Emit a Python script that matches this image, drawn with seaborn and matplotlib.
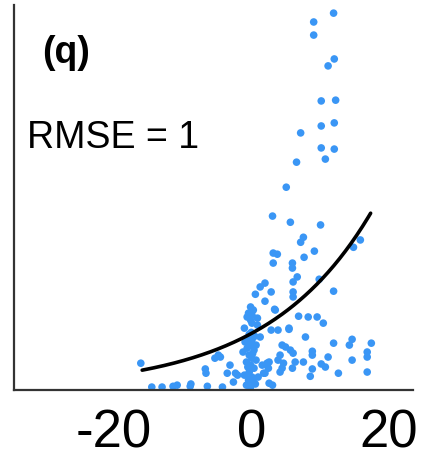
import numpy as np
import pandas as pd
import matplotlib
matplotlib.use("Agg")
import matplotlib.pyplot as plt
import seaborn as sns

x_vals = [
    12.0, 9.1, 9.1, 12.1, 11.2, 10.2, 12.3, 10.2, 12.1, 7.2, 10.2, 12.1, 10.8, 6.6, 5.1,
    3.1, 5.7, 10.1, 7.6, 7.2, 15.9, 14.9, 9.2, 7.7, 3.2, 3.8, 3.2, 6.0, 6.0, 6.7, 6.1, 9.9,
    2.0, 1.3, 2.9, 6.1, 6.1, 12.0, 0.6, 2.0, 3.4, 3.5,
    -0.1, 0.3, -0.4, 0.1, -0.6, 0.9, -0.1, 0.1, -1.0, 0.9,
    6.9, 8.3, 9.6, 10.5, 5.5, 3.9, 2.9, 1.3, 7.9, 12.0, 14.7, 14.3, 17.5,
    4.5, 5.0, 5.7, 6.1, 8.9, 8.9, 16.9, 16.9,
    -4.8, -5.3, 4.2, 3.9, 11.2, 14.7, 2.6, 2.3, 7.6, 10.2, 10.8, -3.1, -3.5, -6.7, -6.6,
    4.5, 6.0, 8.9, 12.7, 16.9, -16.1, -2.3, 1.8, 2.6, 8.6,
    -14.5, -13.0, -11.4, -10.8, -8.9, -8.8, -6.4, -4.2, -2.6,
    -0.4, 0.1, -0.1, -0.6, 0.4, -0.3, 0.1, -0.7, -0.1, 0.4, -0.3, -1.0, 0.1, -0.4, -0.7,
    -0.1, 0.6, 1.0, -0.9, 0.7, -1.2, 0.7, 1.6, 2.3, 2.5, 2.0, 5.5, -2.0, -4.5, 3.1, 4.7,
    4.2, 6.4, 0.0, -0.3, 0.5, 0.2, -0.5, 0.3, -0.2,
]
y_vals = [
    9.79, 9.56, 9.22, 8.60, 8.42, 7.51, 7.53, 6.86, 6.94, 6.68, 6.29, 6.26, 6.00, 5.92, 5.27,
    4.52, 4.36, 4.29, 3.97, 3.84, 3.90, 3.71, 3.61, 3.45, 3.56, 3.53, 3.30, 3.30, 3.17, 2.94, 2.81, 2.88,
    2.78, 2.68, 2.55, 2.55, 2.42, 2.57, 2.49, 2.31, 2.10, 2.08,
    2.16, 2.08, 2.00, 1.95, 1.90, 1.87, 1.82, 1.74, 1.61, 1.69,
    1.92, 1.90, 1.90, 1.74, 1.61, 1.56, 1.56, 1.38, 1.38, 1.22, 1.32, 1.17, 1.22,
    1.17, 1.12, 1.04, 0.96, 1.01, 0.91, 0.99, 0.86,
    0.91, 0.83, 0.91, 0.78, 0.86, 0.78, 0.73, 0.65, 0.73, 0.68, 0.60, 0.65, 0.44, 0.55, 0.44,
    0.57, 0.57, 0.55, 0.44, 0.47, 0.70, 0.44, 0.44, 0.18, 0.36,
    0.08, 0.08, 0.10, 0.13, 0.10, 0.16, 0.10, 0.08, 0.21,
    1.35, 1.30, 1.17, 1.09, 1.04, 0.91, 0.83, 0.73, 0.65, 0.57, 0.47, 0.39, 0.34, 0.26, 0.13,
    0.08, 0.16, 0.34, 1.25, 1.17, 0.99, 0.78, 0.65, 0.70, 0.57, 0.44, 1.58, 0.39, 0.86, 0.13, 0.70,
    0.47, 0.73, 1.50, 1.45, 1.40, 0.95, 0.60, 0.22, 0.30,
]

# exponential fit y = a * exp(b * x)
fit_a = 1.47
fit_b = 0.0655
fit_x_range = [-15.9, 17.4]

x_ticks = [-20, 0, 20]
tick_labels = ["-20", "0", "20"]
panel_label = "(q)"
rmse_text = "RMSE = 1"

sns.set_style("white")
plt.rcParams["font.family"] = ["Liberation Sans", "DejaVu Sans"]
plt.rcParams["text.color"] = "black"
plt.rcParams["xtick.color"] = "black"

fig = plt.figure(figsize=(4.34, 4.59), dpi=100)
ax = fig.add_axes([0.032, 0.150, 0.920, 0.839])

df = pd.DataFrame({"x": x_vals, "y": y_vals})
sns.scatterplot(data=df, x="x", y="y", ax=ax, color="#3a96f5", s=30,
                edgecolor="none", linewidth=0, zorder=2)

xc = np.linspace(fit_x_range[0], fit_x_range[1], 200)
yc = fit_a * np.exp(fit_b * xc)
sns.lineplot(x=xc, y=yc, ax=ax, color="black", linewidth=2.6, zorder=3)

ax.set_xlim(-34.6, 23.6)
ax.set_ylim(0, 10.0)
ax.set_xticks(x_ticks)
ax.set_xticklabels(tick_labels, fontsize=38, color="black")
ax.set_yticks([])
ax.tick_params(axis="x", length=0, pad=13, labelcolor="black")
ax.set_xlabel("")
ax.set_ylabel("")
for side in ["top", "right"]:
    ax.spines[side].set_visible(False)
for side in ["left", "bottom"]:
    ax.spines[side].set_color("#333333")
    ax.spines[side].set_linewidth(1.6)

ax.text(0.070, 0.875, panel_label, transform=ax.transAxes, fontsize=27,
        fontweight="bold", va="center", ha="left", color="black")
ax.text(0.033, 0.656, rmse_text, transform=ax.transAxes, fontsize=27,
        va="center", ha="left", color="black")

fig.savefig("out.png", dpi=100)
